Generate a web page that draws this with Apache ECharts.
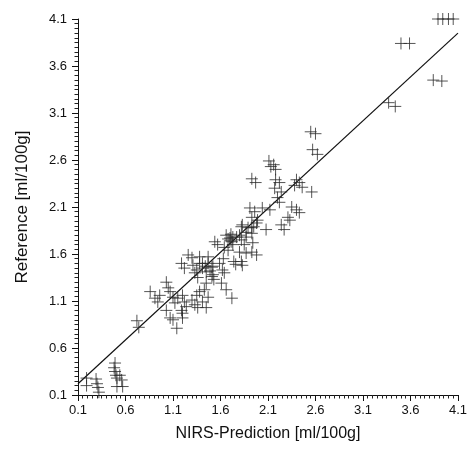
<!DOCTYPE html>
<html>
<head>
<meta charset="utf-8">
<script src="https://cdn.jsdelivr.net/npm/echarts@6/dist/echarts.min.js"></script>
<style>
html,body{margin:0;padding:0;background:#fff;}
#c{width:470px;height:450px;}
</style>
</head>
<body>
<div id="c"></div>
<script>
// NIRS prediction (x) values
var predX = [
  0.19,0.19,0.29,0.30,0.31,0.32,
  0.49,0.48,0.49,0.50,0.51,0.54,0.56,0.51,0.57,
  0.72,0.74,
  1.82,1.87,1.93,1.98,1.66,1.70,1.72,1.73,1.77,1.82,1.85,1.54,1.57,1.64,1.68,1.80,1.87,1.94,1.93,1.98,1.82,1.83,
  1.26,1.30,1.38,1.47,1.19,1.22,1.31,1.35,1.38,1.41,1.45,1.51,1.33,1.36,1.59,1.62,1.64,1.52,1.61,1.66,1.72,
  1.45,1.43,1.47,1.38,1.35,1.03,1.05,1.07,0.86,0.91,0.94,0.96,1.10,1.12,1.15,1.20,1.22,1.24,1.30,1.33,1.36,
  1.41,1.45,1.19,1.20,1.03,1.07,1.10,1.14,1.20,
  2.11,2.16,2.13,2.18,1.93,1.97,2.18,2.22,2.40,2.43,2.38,2.46,2.56,2.17,2.24,2.20,2.22,1.91,1.96,2.04,2.12,
  2.35,2.40,2.43,1.93,1.99,2.31,2.33,1.83,1.89,2.08,2.24,2.27,1.73,1.80,1.87,
  1.41,1.44,1.47,1.49,1.52,1.68,1.70,1.71,1.95,1.93,1.51,1.53,1.63,1.74,1.76,
  2.55,2.60,2.57,2.62,3.37,3.44,3.84,3.93,3.50,3.59,3.89,3.94,4.00,4.05
];
// Reference (y) values
var refY = [
  0.28,0.20,0.27,0.22,0.18,0.13,
  0.44,0.39,0.35,0.31,0.28,0.31,0.26,0.19,0.19,
  0.89,0.82,
  1.89,1.83,1.88,1.93,1.80,1.77,1.73,1.70,1.78,1.75,1.70,1.73,1.70,1.67,1.64,1.62,1.61,1.72,1.62,1.59,1.52,1.48,
  1.59,1.56,1.57,1.57,1.50,1.45,1.48,1.43,1.50,1.45,1.41,1.46,1.40,1.35,1.50,1.43,1.40,1.38,1.29,1.22,1.13,
  1.29,1.22,1.14,1.20,1.16,1.30,1.24,1.20,1.20,1.13,1.09,1.16,1.14,1.08,1.13,1.16,1.09,1.04,1.11,1.06,1.03,
  1.09,1.03,1.00,0.97,1.00,0.92,0.90,0.81,0.92,
  2.59,2.55,2.53,2.50,2.40,2.36,2.39,2.36,2.39,2.36,2.33,2.31,2.26,2.30,2.26,2.20,2.15,2.09,2.05,2.09,2.07,
  2.10,2.07,2.04,1.99,1.96,1.99,1.96,1.91,1.88,1.86,1.91,1.86,1.78,1.80,1.78,
  1.50,1.47,1.50,1.42,1.47,1.76,1.74,1.81,1.89,1.82,1.36,1.33,1.55,1.52,1.49,
  2.90,2.88,2.71,2.66,3.21,3.17,3.45,3.44,3.84,3.84,4.10,4.10,4.10,4.10
];
// Regression line end points
var fitX = [0.1, 4.1];
var fitY = [0.22, 3.95];
// Tick labels
var tickLabels = ['0.1','0.6','1.1','1.6','2.1','2.6','3.1','3.6','4.1'];

var pts = predX.map(function(x,i){return [x, refY[i]];});
var fit = fitX.map(function(x,i){return [x, fitY[i]];});

var FONT = 'Liberation Sans, Arial, sans-serif';
function axisCommon(name, nameSize){
  return {
    type:'value', min:0.1, max:4.1, interval:0.5,
    name:name, nameLocation:'middle',
    nameTextStyle:{fontFamily:FONT, fontSize:nameSize, color:'#111'},
    axisLine:{show:true, lineStyle:{color:'#111', width:1}},
    axisTick:{show:true, inside:false, length:6, lineStyle:{color:'#111', width:1}},
    minorTick:{show:true, splitNumber:10, length:3.5, lineStyle:{color:'#222', width:1}},
    splitLine:{show:false},
    axisLabel:{fontFamily:FONT, fontSize:13, color:'#111',
      formatter:function(v){
        var i = Math.round((v-0.1)/0.5);
        return tickLabels[i] !== undefined ? tickLabels[i] : v.toFixed(1);
      }}
  };
}
var xAx = axisCommon('NIRS-Prediction [ml/100g]', 16);
xAx.nameGap = 31;
xAx.axisLabel.margin = 9;
var yAx = axisCommon('Reference [ml/100g]', 17);
yAx.nameGap = 47;
yAx.axisLabel.margin = 11;

var chart = echarts.init(document.getElementById('c'), null, {renderer:'canvas'});
chart.setOption({
  animation:false,
  backgroundColor:'#fff',
  grid:{left:78, right:11, top:19, bottom:55, containLabel:false},
  xAxis:xAx,
  yAxis:yAx,
  series:[
    {
      type:'line', data:fit, showSymbol:false, symbol:'none',
      lineStyle:{color:'#111', width:1.2}, z:2, silent:true
    },
    {
      type:'scatter', data:pts,
      symbol:'path://M0,6L12,6M6,0L6,12', symbolSize:12,
      itemStyle:{color:'none', borderColor:'#2a2a2a', borderWidth:1},
      z:3
    }
  ]
});
</script>
</body>
</html>
